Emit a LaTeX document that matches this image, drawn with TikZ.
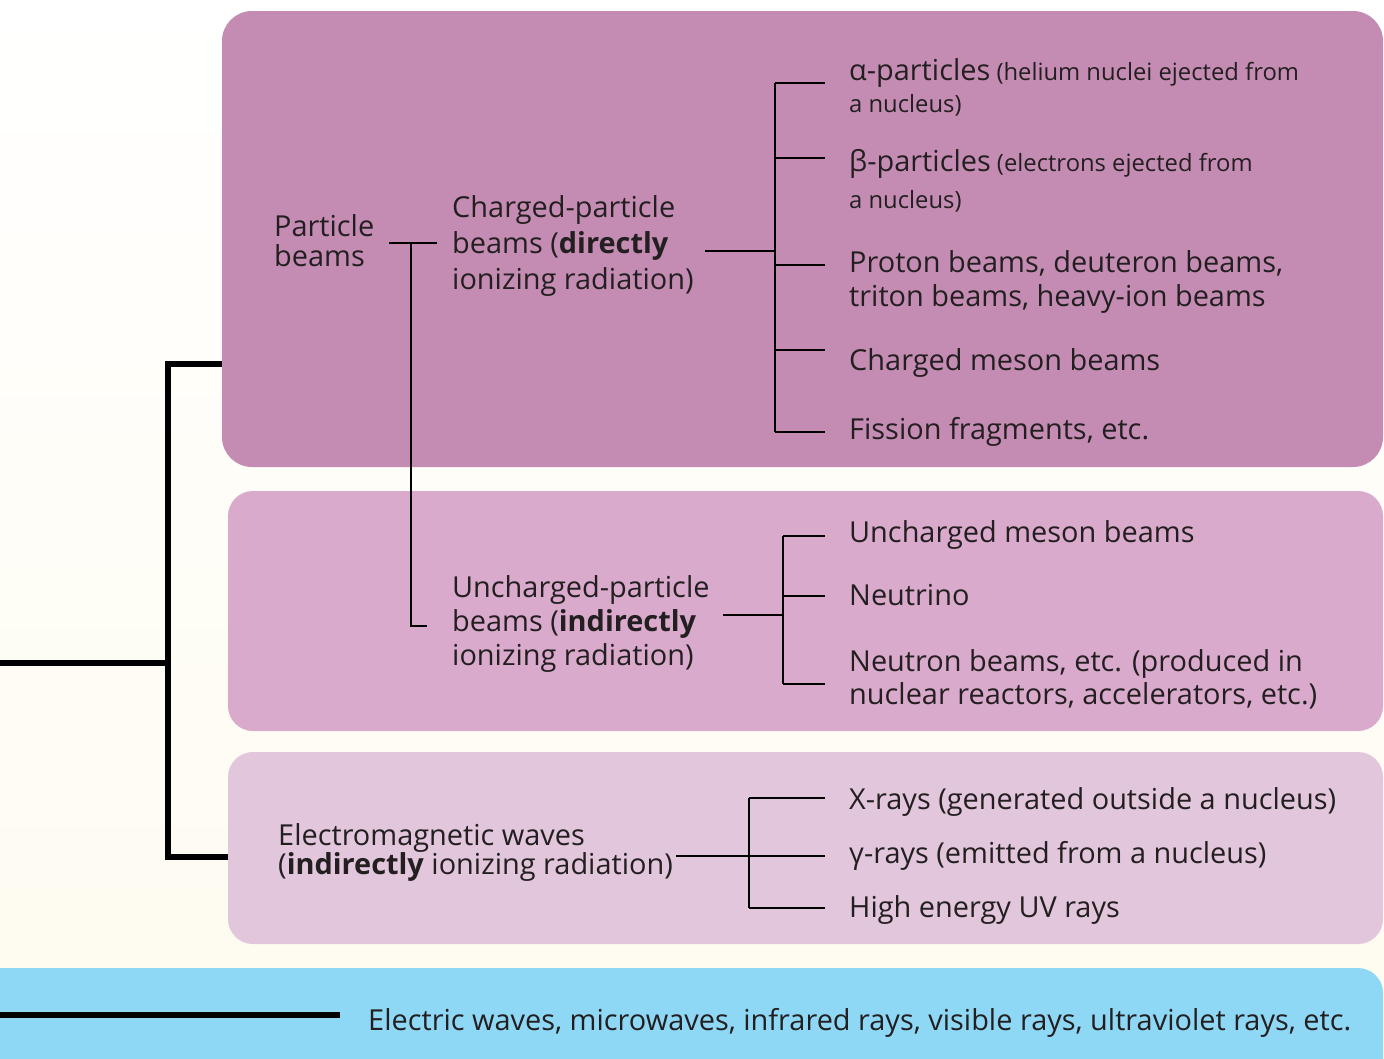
\documentclass[tikz,border=0pt]{standalone}
\usepackage{fontspec}
\setmainfont{Open Sans}
\definecolor{boxA}{RGB}{196,140,179}
\definecolor{boxB}{RGB}{217,170,203}
\definecolor{boxC}{RGB}{226,198,220}
\definecolor{bandblue}{RGB}{142,216,246}
\definecolor{cream}{RGB}{254,251,239}
\definecolor{ink}{RGB}{35,31,32}
\tikzset{
  panel/.style={rounded corners=#1, draw=none},
  lbl/.style={anchor=west, inner sep=0pt, align=left, text=ink},
  big/.style={font=\fontsize{28.9}{#1}\selectfont},
  thinline/.style={line width=2.4pt, draw=black},
  thickline/.style={line width=6pt, draw=black},
}
\begin{document}
\begin{tikzpicture}[x=1pt,y=-1pt]
\useasboundingbox (0,0) rectangle (1384,1058);
\clip (0,0) rectangle (1384,1058);
\shade[top color=white, bottom color=cream] (0,0) rectangle (1384,1058);

% panels
\fill[boxA, panel=30pt] (222,11) rectangle (1383,467);
\fill[boxB, panel=25pt] (228,491) rectangle (1383,731);
\fill[boxC, panel=25pt] (228,752) rectangle (1383,944);
\fill[bandblue, panel=25pt] (-60,968) rectangle (1383,1120);

% text nodes
\node[lbl, big=30] (pb) at (274,241) {Particle\\beams};
\node[lbl, big=36] (cp) at (452,246) {Charged-particle\\beams (\textbf{directly}\\ionizing radiation)};
\node[lbl, big=34] (up) at (452,624) {Uncharged-particle\\beams (\textbf{indirectly}\\ionizing radiation)};
\node[lbl, big=29] (em) at (278,852) {Electromagnetic waves\\(\textbf{indirectly} ionizing radiation)};

\node[lbl, font=\fontsize{23.8}{32}\selectfont] (alpha) at (849,87) {{\fontsize{28.9}{32}\selectfont α-particles} (helium nuclei ejected from\\a nucleus)};
\node[lbl, font=\fontsize{23.8}{37}\selectfont] (beta) at (849,181) {{\fontsize{28.9}{37}\selectfont β-particles} (electrons ejected from\\a nucleus)};
\node[lbl, big=34] (proton) at (849,282) {Proton beams, deuteron beams,\\triton beams, heavy-ion beams};
\node[lbl, big=34] (cmeson) at (849,363) {Charged meson beams};
\node[lbl, big=34] (fission) at (849,432) {Fission fragments, etc.};

\node[lbl, big=34] (umeson) at (849,535) {Uncharged meson beams};
\node[lbl, big=34] (neutrino) at (849,595) {Neutrino};
\node[lbl, big=33] (neutron) at (849,679) {Neutron beams, etc. (produced in\\nuclear reactors, accelerators, etc.)};

\node[lbl, big=34] (xray) at (849,802) {X-rays (generated outside a nucleus)};
\node[lbl, big=34] (gamma) at (849,856) {γ-rays (emitted from a nucleus)};
\node[lbl, big=34] (uv) at (849,910) {High energy UV rays};

\node[lbl, big=34] (band) at (368,1023) {Electric waves, microwaves, infrared rays, visible rays, ultraviolet rays, etc.};

% thick tree
\coordinate (rootL) at (0,663);
\coordinate (rootJ) at (168,663);
\coordinate (topJ) at (168,364);
\coordinate (topE) at (222,364);
\coordinate (botJ) at (168,857);
\coordinate (botE) at (228,857);
\draw[thickline] (rootL) -- (rootJ);
\draw[thickline] (topE) -- (topJ) -- (botJ) -- (botE);
\coordinate (bandL) at (0,1015);
\coordinate (bandR) at (340,1015);
\draw[thickline] (bandL) -- (bandR);

% particle beams bracket
\coordinate (pbA) at (389,243);
\coordinate (pbB) at (437,243);
\coordinate (pbV) at (411,243);
\coordinate (pbD) at (411,626);
\coordinate (pbE) at (427,626);
\draw[thinline] (pbA) -- (pbB);
\draw[thinline] (pbV) -- (pbD) -- (pbE);

% charged bracket
\coordinate (cpA) at (705,251);
\coordinate (cpJ) at (775,251);
\draw[thinline] (cpA) -- (cpJ);
\draw[thinline] (775,83) -- (775,432);
\foreach \yy in {83,158,265,350,432}
  \draw[thinline] (775,\yy) -- (825,\yy);

% uncharged bracket
\coordinate (upA) at (723,615);
\coordinate (upJ) at (783,615);
\draw[thinline] (upA) -- (upJ);
\draw[thinline] (783,536) -- (783,684);
\foreach \yy in {536,596,684}
  \draw[thinline] (783,\yy) -- (825,\yy);

% em bracket
\coordinate (emA) at (676,856);
\coordinate (emJ) at (749,856);
\draw[thinline] (emA) -- (emJ);
\draw[thinline] (749,798) -- (749,908);
\foreach \yy in {798,856,908}
  \draw[thinline] (749,\yy) -- (825,\yy);
\end{tikzpicture}
\end{document}
